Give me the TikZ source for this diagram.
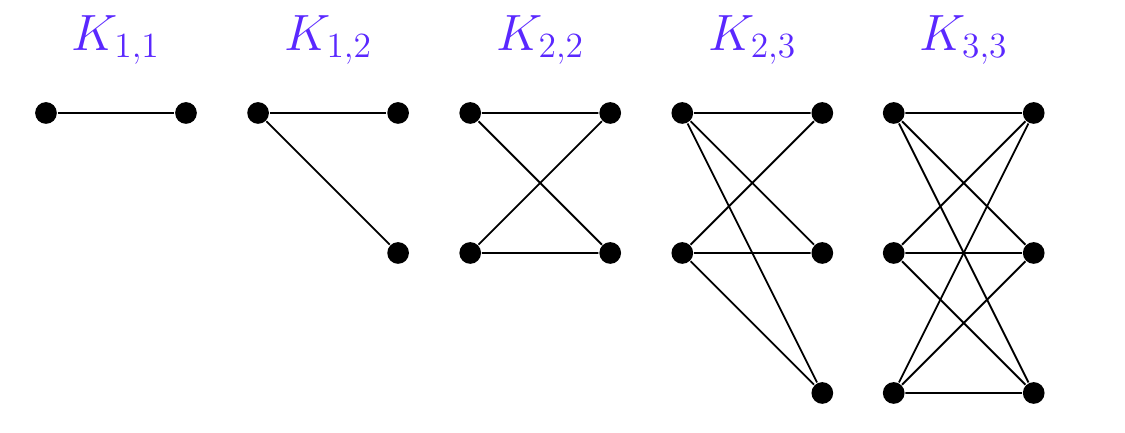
\documentclass[tikz,border=0pt]{standalone}
\usepackage{amsmath,amssymb}
\usepackage{tikz}
\definecolor{labcol}{RGB}{90,40,255}
\tikzset{vtx/.style={circle,fill,inner sep=0pt,minimum size=0.31cm},
  lab/.style={text=labcol,font=\huge}}

\begin{document}
\begin{tikzpicture}[line width=0.75pt]
  \useasboundingbox (-0.657,-4.571) rectangle (15.414,1.614);
  % K_{1,1}
  \node[lab] (t1) at (1,1.04) {$K_{1,1}$};
  \node[vtx] (p1) at (0,0) {};
  \node[vtx] (q1) at (2,0) {};
  \draw (p1) -- (q1);
  % K_{1,2}
  \node[lab] (t2) at (4.03,1.04) {$K_{1,2}$};
  \node[vtx] (p2) at (3.03,0) {};
  \node[vtx] (q2) at (5.03,0) {};
  \node[vtx] (r2) at (5.03,-2) {};
  \draw (p2) -- (q2);
  \draw (p2) -- (r2);
  % K_{2,2}
  \node[lab] (t3) at (7.06,1.04) {$K_{2,2}$};
  \node[vtx] (p3) at (6.06,0) {};
  \node[vtx] (s3) at (6.06,-2) {};
  \node[vtx] (q3) at (8.06,0) {};
  \node[vtx] (r3) at (8.06,-2) {};
  \draw (p3) -- (q3) (p3) -- (r3);
  \draw (s3) -- (q3) (s3) -- (r3);
  % K_{2,3}
  \node[lab] (t4) at (10.09,1.04) {$K_{2,3}$};
  \node[vtx] (p4) at (9.09,0) {};
  \node[vtx] (s4) at (9.09,-2) {};
  \node[vtx] (q4) at (11.09,0) {};
  \node[vtx] (r4) at (11.09,-2) {};
  \node[vtx] (u4) at (11.09,-4) {};
  \draw (p4) -- (q4) (p4) -- (r4) (p4) -- (u4);
  \draw (s4) -- (q4) (s4) -- (r4) (s4) -- (u4);
  % K_{3,3}
  \node[lab] (t5) at (13.11,1.04) {$K_{3,3}$};
  \node[vtx] (p5) at (12.11,0) {};
  \node[vtx] (s5) at (12.11,-2) {};
  \node[vtx] (v5) at (12.11,-4) {};
  \node[vtx] (q5) at (14.11,0) {};
  \node[vtx] (r5) at (14.11,-2) {};
  \node[vtx] (u5) at (14.11,-4) {};
  \draw (p5) -- (q5) (p5) -- (r5) (p5) -- (u5);
  \draw (s5) -- (q5) (s5) -- (r5) (s5) -- (u5);
  \draw (v5) -- (q5) (v5) -- (r5) (v5) -- (u5);
\end{tikzpicture}
\end{document}
